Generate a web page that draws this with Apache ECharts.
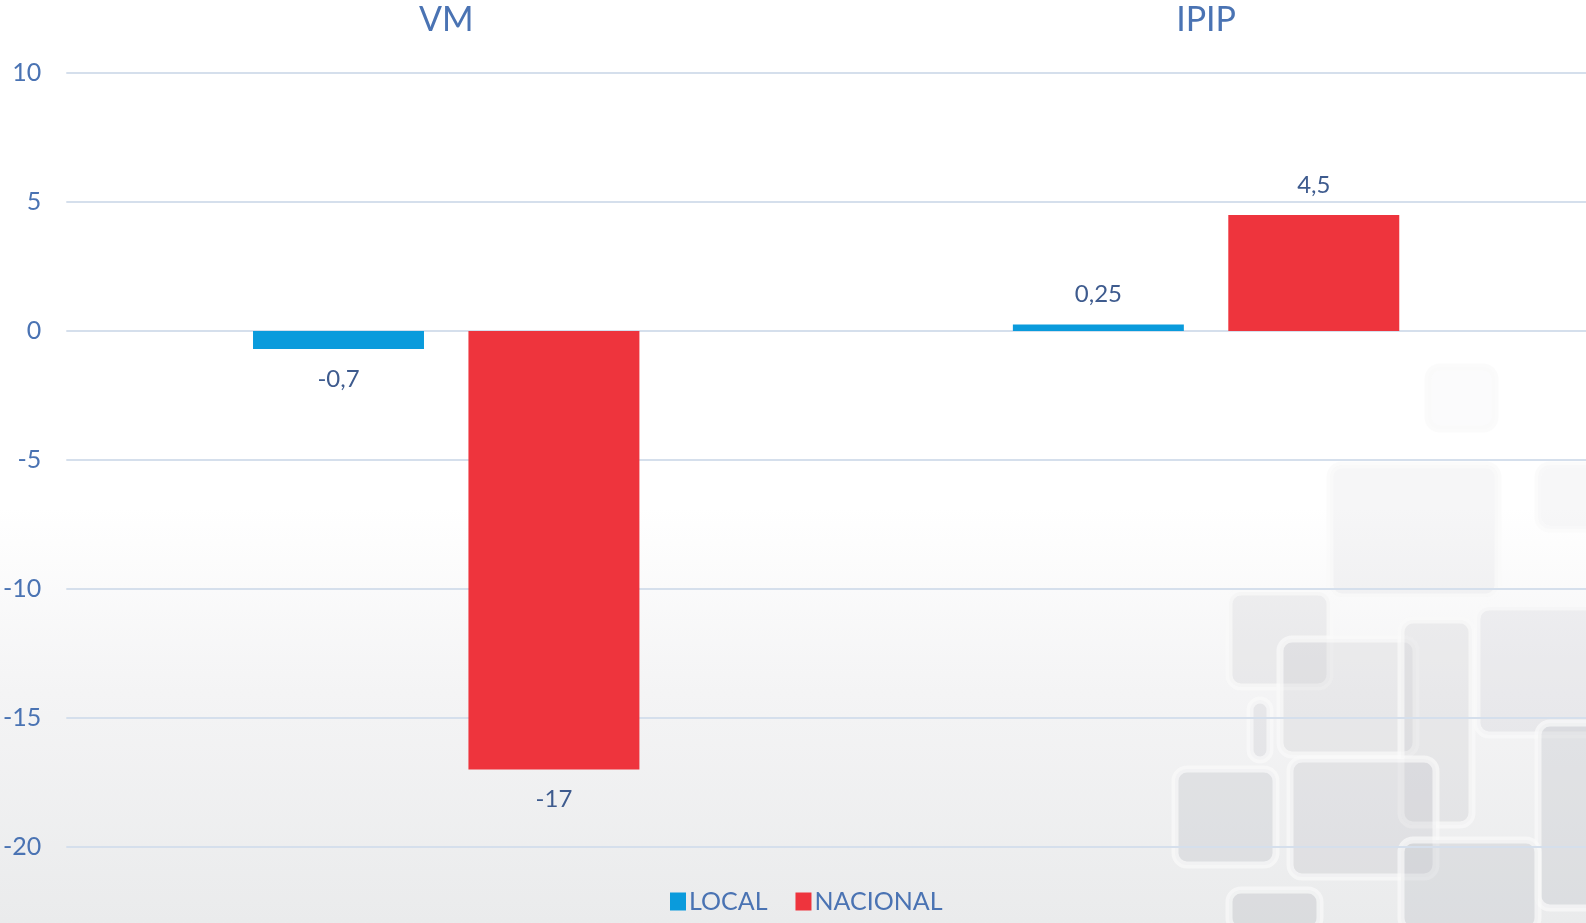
<!DOCTYPE html>
<html>
<head>
<meta charset="utf-8">
<script src="https://cdn.jsdelivr.net/npm/echarts@6/dist/echarts.min.js"></script>
<style>
  html, body { margin: 0; padding: 0; }
  #chart {
    width: 1586px; height: 923px;
    background: linear-gradient(to bottom, #ffffff 0%, #ffffff 55%, #f4f4f5 75%, #eaebec 100%);
  }
</style>
</head>
<body>
<div id="chart"></div>
<script>
// categories and series values
const categories = ['VM', 'IPIP'];
const localValues = [-0.7, 0.25];
const nacionalValues = [-17, 4.5];
const seriesNames = ['LOCAL', 'NACIONAL'];

const BLUE = '#0a9bdc';
const RED = '#ee343d';
const AXIS_TEXT = '#4a73b3';
const LABEL_TEXT = '#3e5b8e';
const FONT = 'Lato, "Open Sans", sans-serif';

// decorative background tiles (bottom right), not data
const tiles = [
  [1428, 367, 67, 62, 0.06], [1330, 465, 168, 132, 0.14], [1538, 465, 60, 64, 0.12],
  [1229, 592, 101, 95, 0.22], [1280, 639, 136, 116, 0.22], [1401, 620, 71, 205, 0.22],
  [1477, 607, 120, 128, 0.2], [1175, 769, 101, 96, 0.32], [1290, 759, 146, 118, 0.28],
  [1538, 723, 60, 185, 0.32], [1229, 890, 91, 40, 0.35], [1401, 840, 137, 90, 0.32],
  [1250, 700, 20, 60, 0.25]
];

const chart = echarts.init(document.getElementById('chart'));

const labelFmt = p => String(p.value).replace('.', ',');

chart.setOption({
  animation: false,
  textStyle: { fontFamily: FONT },
  graphic: tiles.map(t => ({
    type: 'rect',
    silent: true,
    z: -10,
    shape: { x: t[0], y: t[1], width: t[2], height: t[3], r: 12 },
    style: { fill: 'rgba(190,192,198,' + t[4] + ')', stroke: 'rgba(250,250,250,0.7)', lineWidth: 7 }
  })),
  grid: { left: 61, right: 0, top: 73, bottom: 76 },
  legend: {
    bottom: 4,
    left: 665,
    data: seriesNames,
    icon: 'rect',
    itemWidth: 16,
    itemHeight: 18,
    itemGap: 28,
    textStyle: { color: AXIS_TEXT, fontSize: 25, fontFamily: FONT, padding: [0, 0, 0, -2] }
  },
  xAxis: {
    type: 'category',
    position: 'top',
    data: categories,
    axisLine: { show: false },
    axisTick: { show: false },
    axisLabel: { color: AXIS_TEXT, fontSize: 34, margin: 36, fontFamily: FONT }
  },
  yAxis: {
    type: 'value',
    min: -20,
    max: 10,
    interval: 5,
    axisLine: { show: false },
    axisTick: { show: false },
    splitLine: { lineStyle: { color: '#d5dfec', width: 2 } },
    axisLabel: { color: AXIS_TEXT, fontSize: 25, margin: 25, fontFamily: FONT }
  },
  series: [
    {
      name: seriesNames[0],
      type: 'bar',
      data: localValues,
      barWidth: '22.5%',
      barGap: '26%',
      itemStyle: { color: BLUE },
      label: { show: true, position: 'outside', distance: 18, color: LABEL_TEXT, fontSize: 24, fontFamily: FONT, formatter: labelFmt }
    },
    {
      name: seriesNames[1],
      type: 'bar',
      data: nacionalValues,
      barWidth: '22.5%',
      barGap: '26%',
      itemStyle: { color: RED },
      label: { show: true, position: 'outside', distance: 18, color: LABEL_TEXT, fontSize: 24, fontFamily: FONT, formatter: labelFmt }
    }
  ]
});
</script>
</body>
</html>
